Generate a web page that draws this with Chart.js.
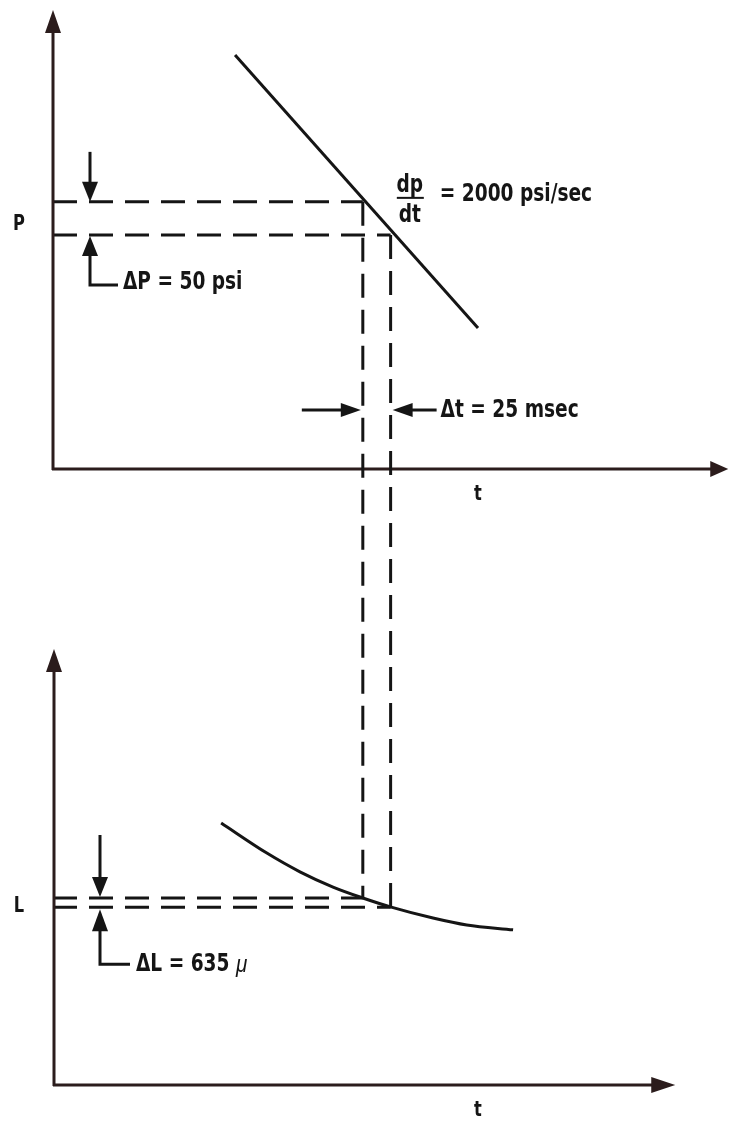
<!DOCTYPE html>
<html>
<head>
<meta charset="utf-8">
<script src="https://cdn.jsdelivr.net/npm/chart.js@4/dist/chart.umd.min.js"></script>
<style>
body{margin:0;background:#fff}
#wrap{width:730px;height:1123px;position:relative}
</style>
</head>
<body>
<div id="wrap"><canvas id="chart"></canvas></div>
<script>
// upper plot: pressure P against time t (straight falling line)
const pressureT = [2.75, 6.42];
const pressureP = [9.02, 3.07];

// lower plot: length L against time t (curve flattening out)
const lengthT = [2.54, 3.23, 3.73, 4.23, 4.68, 5.11, 5.74, 6.25, 6.95];
const lengthL = [6.01, 5.32, 4.89, 4.54, 4.29, 4.08, 3.83, 3.67, 3.56];

// the two read-off instants and the values there
const tMarks = [4.68, 5.10];
const pMarks = [5.82, 5.10];
const lMarks = [4.29, 4.08];

// axis lengths (top plot, bottom plot)
const tAxisEnd = [10.2, 9.4];
const pAxisEnd = 10;
const lAxisEnd = 10;

// texts
const axisNames = ['P', 'L', 't'];
const slopeText = ['dp', 'dt', '= 2000 psi/sec'];
const deltaP = 'ΔP = 50 psi';
const deltaT = 'Δt = 25 msec';
const deltaL = ['ΔL = 635 ', 'μ'];

const ink = '#151515';
const axisInk = '#2b1c1c';
const bold = 'bold 24px "Liberation Sans Narrow", "DejaVu Sans Condensed", sans-serif';
const boldSmall = 'bold 21px "Liberation Sans Narrow", "DejaVu Sans Condensed", sans-serif';
const squeeze = 0.86;  //condensed look of the original lettering

function pts(xs, ys){
    return xs.map((x, i) => ({x: x, y: ys[i]}));
}

//filled triangle arrow head, tip at (x,y), pointing dir: up/down/left/right
function head(ctx, x, y, dir, len, half){
    ctx.beginPath();
    ctx.moveTo(x, y);
    if (dir == 'up'){ ctx.lineTo(x-half, y+len); ctx.lineTo(x+half, y+len); }
    if (dir == 'down'){ ctx.lineTo(x-half, y-len); ctx.lineTo(x+half, y-len); }
    if (dir == 'right'){ ctx.lineTo(x-len, y-half); ctx.lineTo(x-len, y+half); }
    if (dir == 'left'){ ctx.lineTo(x+len, y-half); ctx.lineTo(x+len, y+half); }
    ctx.closePath();
    ctx.fill();
}

function seg(ctx, pts){
    ctx.beginPath();
    ctx.moveTo(pts[0][0], pts[0][1]);
    for (let i = 1; i < pts.length; i++) ctx.lineTo(pts[i][0], pts[i][1]);
    ctx.stroke();
}

//draws narrowed text, returns its drawn width
function text(ctx, s, x, y){
    ctx.save();
    ctx.translate(x, y);
    ctx.scale(squeeze, 1);
    ctx.fillText(s, 0, 0);
    const w = ctx.measureText(s).width * squeeze;
    ctx.restore();
    return w;
}

const sketch = {
    id: 'sketch',
    afterDatasetsDraw(chart){
        const ctx = chart.ctx;
        const xs = chart.scales.x, yP = chart.scales.yP, yL = chart.scales.yL;
        ctx.save();
        ctx.lineCap = 'butt';

        //axes
        ctx.strokeStyle = axisInk;
        ctx.fillStyle = axisInk;
        ctx.lineWidth = 3;
        const x0 = xs.getPixelForValue(0);
        const p0 = yP.getPixelForValue(0), pTop = yP.getPixelForValue(pAxisEnd);
        const l0 = yL.getPixelForValue(0), lTop = yL.getPixelForValue(lAxisEnd);
        const xEndTop = xs.getPixelForValue(tAxisEnd[0]);
        const xEndBot = xs.getPixelForValue(tAxisEnd[1]);
        seg(ctx, [[x0, p0+1], [x0, pTop+15]]);
        head(ctx, x0, pTop, 'up', 23, 8);
        seg(ctx, [[x0-1, p0], [xEndTop-15, p0]]);
        head(ctx, xEndTop, p0, 'right', 18, 8);
        seg(ctx, [[x0+1, l0+1], [x0+1, lTop+15]]);
        head(ctx, x0+1, lTop, 'up', 23, 8);
        seg(ctx, [[x0, l0], [xEndBot-15, l0]]);
        head(ctx, xEndBot, l0, 'right', 24, 8);

        //vertical dashed lines from the top plot down to the bottom one
        ctx.strokeStyle = ink;
        ctx.fillStyle = ink;
        ctx.setLineDash([24, 12]);
        for (let i = 0; i < tMarks.length; i++){
            const x = xs.getPixelForValue(tMarks[i]);
            seg(ctx, [[x, yP.getPixelForValue(pMarks[i])], [x, yL.getPixelForValue(lMarks[i])]]);
        }
        ctx.setLineDash([]);

        //delta P arrows
        const pa = yP.getPixelForValue(pMarks[0]), pb = yP.getPixelForValue(pMarks[1]);
        let ax = x0 + 37;
        seg(ctx, [[ax, pa-50], [ax, pa-18]]);
        head(ctx, ax, pa, 'down', 20, 8);
        head(ctx, ax, pb+1, 'up', 20, 8);
        seg(ctx, [[ax, pb+18], [ax, pb+50], [ax+28, pb+50]]);

        //delta L arrows
        const la = yL.getPixelForValue(lMarks[0]), lb = yL.getPixelForValue(lMarks[1]);
        ax = x0 + 47;
        seg(ctx, [[ax, la-63], [ax, la-19]]);
        head(ctx, ax, la-1, 'down', 20, 8);
        head(ctx, ax, lb+2, 'up', 22, 8);
        seg(ctx, [[ax, lb+20], [ax, lb+57], [ax+30, lb+57]]);

        //delta t arrows
        const t1 = xs.getPixelForValue(tMarks[0]), t2 = xs.getPixelForValue(tMarks[1]);
        const ty = p0 - 59;
        seg(ctx, [[t1-61, ty], [t1-18, ty]]);
        head(ctx, t1-2, ty, 'right', 20, 7);
        head(ctx, t2+2, ty, 'left', 20, 7);
        seg(ctx, [[t2+18, ty], [t2+46, ty]]);

        //texts
        ctx.textBaseline = 'middle';
        ctx.textAlign = 'center';
        ctx.font = boldSmall;
        text(ctx, axisNames[0], x0-34, (pa+pb)/2 + 6);
        text(ctx, axisNames[1], x0-34, (la+lb)/2 + 4);
        text(ctx, axisNames[2], 478, p0 + 26);
        text(ctx, axisNames[2], 478, l0 + 26);

        //dp/dt fraction
        ctx.font = bold;
        text(ctx, slopeText[0], t1+47, pa-16);
        text(ctx, slopeText[1], t1+47, pa+14);
        ctx.lineWidth = 2;
        seg(ctx, [[t1+34, pa-4], [t1+61, pa-4]]);
        ctx.textAlign = 'left';
        text(ctx, slopeText[2], t1+77, pa-7);

        text(ctx, deltaP, x0+70, pb+48);
        text(ctx, deltaT, t2+50, ty+1);
        const w = text(ctx, deltaL[0], x0+83, lb+58);
        ctx.font = 'italic 24px "Liberation Sans", "DejaVu Sans", sans-serif';
        text(ctx, deltaL[1], x0+83+w, lb+58);

        ctx.restore();
    }
};

const dash = [24, 12];
const datasets = [
    {data: pts(pressureT, pressureP), yAxisID: 'yP'},
    {data: pts(lengthT, lengthL), yAxisID: 'yL', cubicInterpolationMode: 'monotone'},
];
for (let i = 0; i < tMarks.length; i++){
    datasets.push({data: pts([0, tMarks[i]], [pMarks[i], pMarks[i]]), yAxisID: 'yP', borderDash: dash});
    datasets.push({data: pts([0, tMarks[i]], [lMarks[i], lMarks[i]]), yAxisID: 'yL', borderDash: dash});
}
datasets.forEach(d => {
    d.showLine = true;
    d.pointRadius = 0;
    d.borderColor = ink;
    d.borderWidth = 3;
    d.fill = false;
});

new Chart(document.getElementById('chart'), {
    type: 'scatter',
    data: {datasets: datasets},
    options: {
        responsive: true,
        maintainAspectRatio: false,
        animation: false,
        events: [],
        layout: {padding: {left: 53, right: 15, top: 10, bottom: 38}},
        plugins: {legend: {display: false}, tooltip: {enabled: false}},
        scales: {
            x: {type: 'linear', min: 0, max: 10, display: false},
            yP: {type: 'linear', position: 'left', min: -13.42, max: 10, display: false},
            yL: {type: 'linear', position: 'left', min: 0, max: 24.66, display: false}
        }
    },
    plugins: [sketch]
});
</script>
</body>
</html>
